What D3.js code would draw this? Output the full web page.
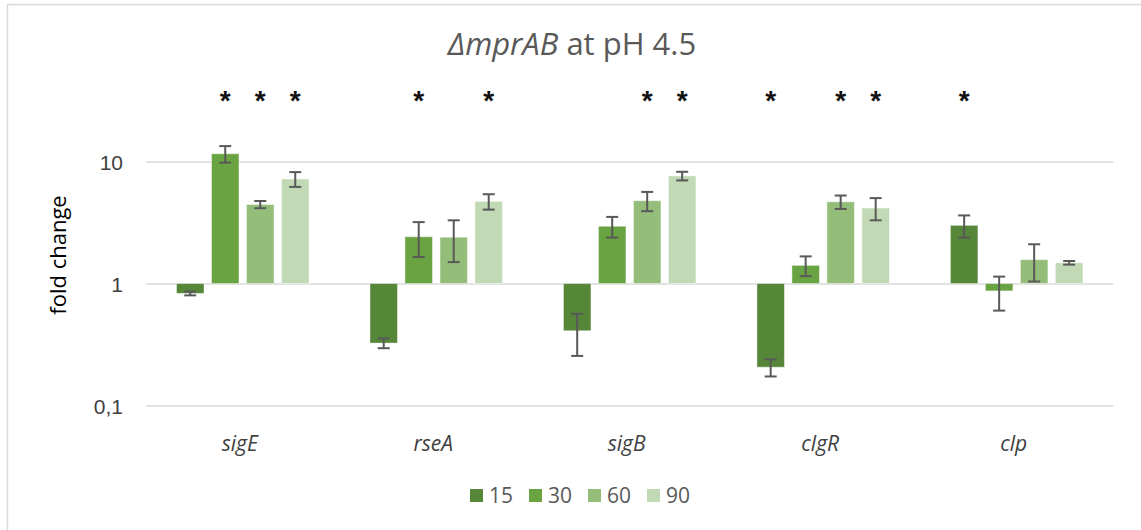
<!DOCTYPE html>
<html>
<head>
<meta charset="utf-8">
<script src="https://cdn.jsdelivr.net/npm/d3@7"></script>
<style>
  html, body { margin: 0; padding: 0; background: #fff; }
  svg { display: block; font-family: "Open Sans", "Noto Sans", sans-serif; }
</style>
</head>
<body>
<svg id="chart" width="1141" height="530"></svg>
<script>
// Genes and sampling time points (minutes)
const categories = ["sigE", "rseA", "sigB", "clgR", "clp"];
const series = ["15", "30", "60", "90"];

// Mean fold change per time point, one entry per gene
const values15 = [0.83, 0.325, 0.41, 0.206, 3.0];
const values30 = [11.6, 2.42, 2.95, 1.41, 0.87];
const values60 = [4.45, 2.40, 4.78, 4.68, 1.57];
const values90 = [7.2, 4.72, 7.63, 4.16, 1.48];

// Error (± value) per time point
const err15 = [0.03, 0.03, 0.155, 0.033, 0.62];
const err30 = [1.8, 0.77, 0.57, 0.26, 0.27];
const err60 = [0.3, 0.9, 0.86, 0.59, 0.53];
const err90 = [1.0, 0.68, 0.62, 0.86, 0.05];

// Time points marked significant, per gene
const significant = [
  ["30", "60", "90"],
  ["30", "90"],
  ["60", "90"],
  ["15", "60", "90"],
  ["15"]
];

const yTicks = [0.1, 1, 10];
const colors = ["#568637", "#6aa342", "#95bd7a", "#c1d9b4"];

const valueSets = [values15, values30, values60, values90];
const errSets = [err15, err30, err60, err90];

const rows = [];
categories.forEach((c, i) => {
  series.forEach((s, j) => {
    rows.push({ cat: c, ser: s, value: valueSets[j][i], err: errSets[j][i] });
  });
});

const svg = d3.select("#chart");

// Outer chart frame
svg.append("rect")
  .attr("x", 7.5).attr("y", 4.5)
  .attr("width", 1150).attr("height", 540)
  .attr("fill", "#fff")
  .attr("stroke", "#d9d9d9")
  .attr("stroke-width", 1.5);

const plot = { left: 146, right: 1113.4, top: 161.6, bottom: 405.5 };

const x = d3.scaleBand().domain(categories).range([plot.left, plot.right]).padding(0);
const xs = d3.scaleBand().domain(series).range([0, x.bandwidth()])
  .paddingInner(0.214).paddingOuter(0.871);
const y = d3.scaleLog().domain([0.1, 10]).range([plot.bottom, plot.top]);
const color = d3.scaleOrdinal().domain(series).range(colors);

// Gridlines and tick labels
const yAxis = d3.axisLeft(y)
  .tickValues(yTicks)
  .tickSize(-(plot.right - plot.left))
  .tickPadding(23)
  .tickFormat(d => String(d).replace(".", ","));

const gy = svg.append("g")
  .attr("transform", `translate(${plot.left},0)`)
  .call(yAxis);
gy.select(".domain").remove();
gy.selectAll(".tick line").attr("stroke", "#d9d9d9").attr("stroke-width", 1.5);
gy.selectAll(".tick text")
  .attr("fill", "#404040")
  .style("font-size", "21px")
  .attr("dy", "0.36em");

// Bars grow from 1 (the axis crossing point)
const base = y(1);
svg.append("g").selectAll("rect")
  .data(rows)
  .join("rect")
  .attr("x", d => x(d.cat) + xs(d.ser))
  .attr("width", xs.bandwidth())
  .attr("y", d => Math.min(y(d.value), base))
  .attr("height", d => Math.abs(y(d.value) - base))
  .attr("fill", d => color(d.ser))
  .attr("stroke", "rgba(255,255,255,0.45)")
  .attr("stroke-width", 1);

// Error bars
const capHalf = 6;
const eg = svg.append("g")
  .attr("stroke", "#595959")
  .attr("stroke-width", 2)
  .attr("fill", "none");
rows.forEach(d => {
  const cx = x(d.cat) + xs(d.ser) + xs.bandwidth() / 2;
  const yHi = y(d.value + d.err);
  const yLo = y(d.value - d.err);
  eg.append("line").attr("x1", cx).attr("x2", cx).attr("y1", yHi).attr("y2", yLo);
  eg.append("line").attr("x1", cx - capHalf).attr("x2", cx + capHalf).attr("y1", yHi).attr("y2", yHi);
  eg.append("line").attr("x1", cx - capHalf).attr("x2", cx + capHalf).attr("y1", yLo).attr("y2", yLo);
});

// Significance markers above the bars
const stars = [];
categories.forEach((c, i) => significant[i].forEach(s => stars.push({ cat: c, ser: s })));
svg.append("g").selectAll("text")
  .data(stars)
  .join("text")
  .attr("x", d => x(d.cat) + xs(d.ser) + xs.bandwidth() / 2)
  .attr("y", 110)
  .attr("text-anchor", "middle")
  .attr("fill", "#111")
  .style("font-size", "28px")
  .style("font-weight", "bold")
  .style("font-family", "'Liberation Sans', Arial, sans-serif")
  .text("*");

// Category labels
svg.append("g").selectAll("text")
  .data(categories)
  .join("text")
  .attr("x", d => x(d) + x.bandwidth() / 2 - 3)
  .attr("y", 451)
  .attr("text-anchor", "middle")
  .attr("fill", "#404040")
  .style("font-size", "21px")
  .style("font-style", "italic")
  .text(d => d);

// Y axis title
svg.append("text")
  .attr("transform", "translate(66,255) rotate(-90)")
  .attr("text-anchor", "middle")
  .attr("fill", "#000")
  .style("font-size", "22px")
  .text("fold change");

// Chart title
const title = svg.append("text")
  .attr("x", 572)
  .attr("y", 55)
  .attr("text-anchor", "middle")
  .attr("fill", "#595959")
  .style("font-size", "31px");
title.append("tspan").style("font-style", "italic").text("\u0394mprAB");
title.append("tspan").text(" at pH 4.5");

// Legend
const lx = d3.scaleBand().domain(series).range([470, 706]);
const lg = svg.append("g").selectAll("g")
  .data(series)
  .join("g")
  .attr("transform", d => `translate(${lx(d)},489)`);
lg.append("rect")
  .attr("width", 13).attr("height", 13)
  .attr("fill", d => color(d));
lg.append("text")
  .attr("x", 19).attr("y", 6.5)
  .attr("dy", "0.36em")
  .attr("fill", "#595959")
  .style("font-size", "21px")
  .text(d => d);
</script>
</body>
</html>
